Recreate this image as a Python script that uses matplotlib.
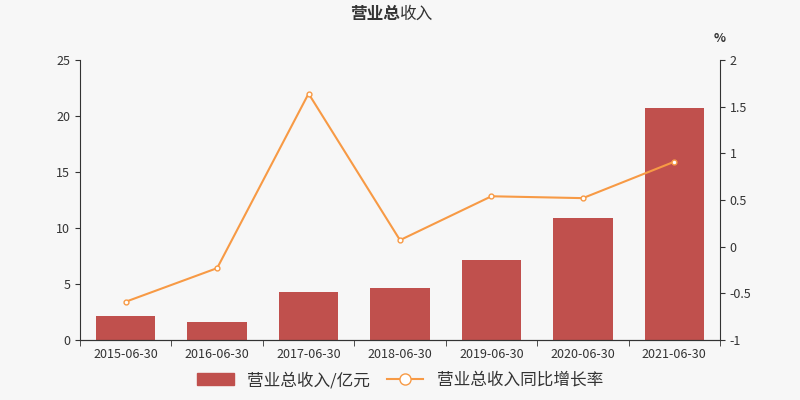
import matplotlib.pyplot as plt
from matplotlib.lines import Line2D
from matplotlib.patches import Patch

plt.rcParams['font.family'] = ['Noto Sans CJK SC', 'DejaVu Sans']

dates = ['2015-06-30', '2016-06-30', '2017-06-30', '2018-06-30',
         '2019-06-30', '2020-06-30', '2021-06-30']
revenue = [2.14, 1.6, 4.3, 4.6, 7.1, 10.85, 20.7]
growth = [-0.59, -0.23, 1.64, 0.07, 0.54, 0.52, 0.91]

bg = '#f7f7f7'
fig = plt.figure(figsize=(8, 4), dpi=100, facecolor=bg)
ax = fig.add_axes([0.1, 0.15, 0.8, 0.7], facecolor=bg)
ax2 = ax.twinx()

x = range(len(dates))
ax.bar(x, revenue, width=0.65, color='#c0504d')
ax2.plot(x, growth, color='#f79a45', lw=1.5, marker='o', ms=3.5,
         markerfacecolor='white', markeredgecolor='#f79a45')

ax.set_xlim(-0.5, len(dates) - 0.5)
ax.set_ylim(0, 25)
ax.set_yticks(range(0, 26, 5))
ax2.set_ylim(-1, 2)
ax2.set_yticks([-1, -0.5, 0, 0.5, 1, 1.5, 2])
ax2.set_yticklabels(['-1', '-0.5', '0', '0.5', '1', '1.5', '2'])
ax.set_xticks(list(x))
ax.set_xticklabels(dates)
ax.set_xticks([i + 0.5 for i in range(-1, len(dates))], minor=True)
ax.tick_params(axis='x', which='major', length=0, pad=6)
ax.tick_params(axis='x', which='minor', length=4, color='#333333')

for a in (ax, ax2):
    for s in ('top',):
        a.spines[s].set_visible(False)
    a.tick_params(labelsize=9, colors='#333333')
    for s in a.spines.values():
        s.set_color('#333333')
ax.spines['right'].set_visible(False)
ax2.spines['left'].set_visible(False)

fig.text(0.5, 0.965, '营业总', ha='right', va='center', fontsize=12, fontweight='bold', color='#333333')
fig.text(0.5, 0.965, '收入', ha='left', va='center', fontsize=12, color='#333333')
fig.text(0.9, 0.905, '%', ha='center', va='center', fontsize=9, fontweight='bold', color='#333333')

handles = [Patch(color='#c0504d'),
           Line2D([], [], color='#f79a45', marker='o', markerfacecolor='white', ms=8)]
fig.legend(handles, ['营业总收入/亿元', '营业总收入同比增长率'], loc='lower center',
           ncol=2, frameon=False, fontsize=12, bbox_to_anchor=(0.5, -0.01),
           labelcolor='#333333', handlelength=2.2, columnspacing=1)

fig.savefig('out.png', facecolor=bg)
